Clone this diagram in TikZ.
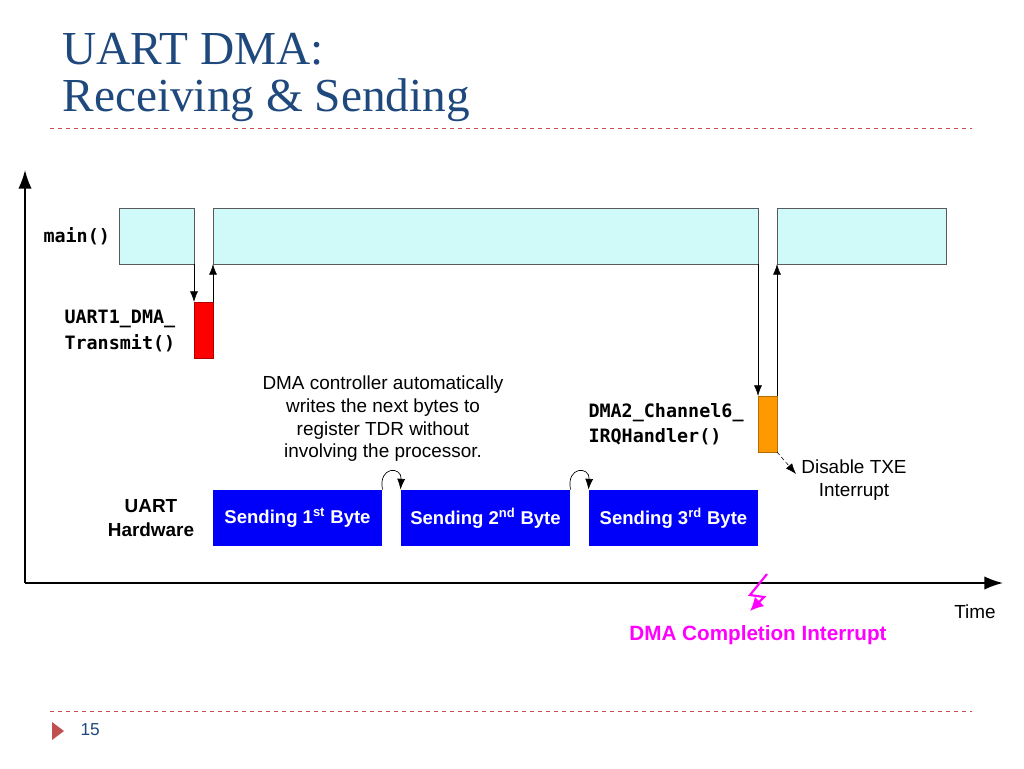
\documentclass[tikz,border=0pt]{standalone}
\usepackage{fontspec}
\setmainfont{Liberation Sans}
\newfontfamily\titlefont{Liberation Serif}
\newfontfamily\codefont{DejaVu Sans Mono}
\usetikzlibrary{arrows.meta}
\definecolor{titleblue}{RGB}{31,73,125}
\definecolor{rulered}{RGB}{192,80,77}
\definecolor{mainfill}{RGB}{208,250,250}
\definecolor{uartblue}{RGB}{0,0,250}
\definecolor{irqorange}{RGB}{255,153,0}
\definecolor{boltpink}{RGB}{255,0,255}
\tikzset{every picture/.style={line width=0.75pt}}
\tikzset{
  task/.style={draw={rgb, 255:red, 90; green, 90; blue, 90}, line width=0.5pt, fill=mainfill},
  byte/.style={fill=uartblue, text=white, font=\bfseries\fontsize{13.9}{16}\selectfont},
  call/.style={-{Latex[length=8pt,width=6pt]}, line width=0.5pt},
  code/.style={anchor=west, inner sep=0.75pt, align=left, font=\codefont\bfseries\fontsize{13.8}{19}\selectfont},
  note/.style={inner sep=0.75pt, align=center, font=\fontsize{14.2}{17}\selectfont}
}
\begin{document}
\begin{tikzpicture}[x=0.75pt,y=0.75pt,yscale=-1,xscale=1]
\useasboundingbox (0,0) rectangle (1024,768);

% Title
\node (title1) [anchor=west, inner sep=0pt, text=titleblue, font=\titlefont\fontsize{35.5}{35}\selectfont] at (62,49) {UART DMA:};
\node (title2) [anchor=west, inner sep=0pt, text=titleblue, font=\titlefont\fontsize{35.5}{35}\selectfont] at (62,100) {Receiving \& Sending};
\draw [rulered, dashed, line width=0.6pt] (50,128) -- (972,128);
\draw [rulered, dashed, line width=0.6pt] (50,711) -- (972,711);
\fill [rulered] (52,722) -- (64,731) -- (52,740) -- cycle;
\node (page) [anchor=west, inner sep=0pt, text=titleblue, font=\fontsize{13}{13}\selectfont] at (80,730) {15};

% Axes
\coordinate (origin) at (25,583);
\coordinate (ytop) at (25,170);
\coordinate (xend) at (1003,583);
\draw [-{Latex[length=14pt,width=10pt]}, line width=1.2pt] (origin) -- (ytop);
\draw [-{Latex[length=14pt,width=10pt]}, line width=1.2pt] (origin) -- (xend);
\node (time) [note] at (975,612) {Time};

% main() boxes
\draw [task] (119,208) rectangle (194,264);
\draw [task] (213,208) rectangle (758,264);
\draw [task] (777,208) rectangle (946,264);
\node (mainlbl) [code] at (42,236) {main()};

% UART1_DMA_Transmit()
\draw [fill=red, draw=red!70!black, line width=0.5pt] (194,302) rectangle (213,358);
\node (txlbl) [code] at (63,331) {UART1\_DMA\_\\Transmit()};
\coordinate (txin) at (194,302);
\coordinate (txout) at (213,302);
\draw [call] (194,264) -- (txin);
\draw [call] (txout) -- (213,264);

% DMA2_Channel6_IRQHandler()
\draw [fill=irqorange, draw=irqorange!70!black, line width=0.5pt] (758,396) rectangle (777,452);
\node (irqlbl) [code] at (587,424) {DMA2\_Channel6\_\\IRQHandler()};
\coordinate (irqin) at (758,396);
\coordinate (irqout) at (777,396);
\draw [call] (758,264) -- (irqin);
\draw [call] (irqout) -- (777,264);

% Disable TXE
\node (txe) [note] at (854,480) {Disable TXE\\Interrupt};
\coordinate (irqcorner) at (777,452);
\draw [-{Latex[length=8pt,width=6pt]}, densely dashed, line width=0.4pt] (irqcorner) -- (796,474);

% UART hardware
\node (uartlbl) [note, font=\bfseries\fontsize{14.2}{18.5}\selectfont] at (151,518) {UART\\Hardware};
\node (byte1) [byte, minimum width=126.75pt, minimum height=42pt] at (297.5,518) {Sending 1\textsuperscript{st} Byte};
\node (byte2) [byte, minimum width=126.75pt, minimum height=42pt] at (485.5,518) {Sending 2\textsuperscript{nd} Byte};
\node (byte3) [byte, minimum width=126.75pt, minimum height=42pt] at (673.5,518) {Sending 3\textsuperscript{rd} Byte};
\draw [call] (byte1.north east) .. controls (378,466) and (402,466) .. (byte2.north west);
\draw [call] (byte2.north east) .. controls (566,466) and (590,466) .. (byte3.north west);
\node (dmanote) [note] at (383,419) {DMA controller automatically\\writes the next bytes to\\register TDR without\\involving the processor.};

% DMA completion interrupt
\draw [boltpink, line width=1.6pt, -{Latex[length=10pt,width=10pt]}] (767,574) -- (750,595) -- (764,597) -- (750,611);
\node (dmadone) [note, text=boltpink, font=\bfseries\fontsize{15.5}{17}\selectfont] at (758,635) {DMA Completion Interrupt};

\end{tikzpicture}
\end{document}
